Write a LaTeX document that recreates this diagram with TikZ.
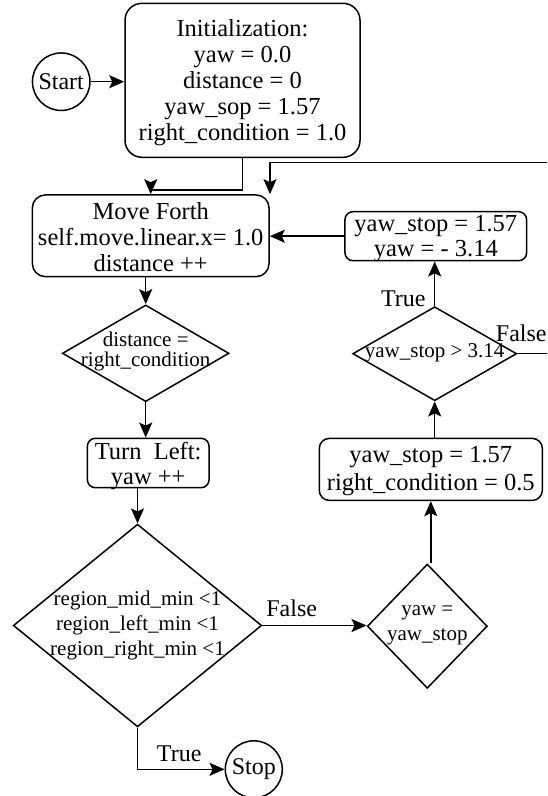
\documentclass[tikz,border=0pt]{standalone}
\usepackage{fontspec}
\setmainfont{Liberation Serif}
\usetikzlibrary{shapes.geometric,arrows.meta}
\begin{document}
\begin{tikzpicture}[x=1pt,y=-1pt,
  line width=1.5pt,
  arr/.style={-{Stealth[length=15pt,width=13pt,inset=3pt]}},
  rbox/.style={draw, rounded corners=#1, inner sep=0pt},
  dia/.style={draw, diamond, inner sep=0pt},
  circ/.style={draw, circle, inner sep=0pt},
  bigtxt/.style={font=\fontsize{24.5}{26}\selectfont, align=center, inner sep=0pt},
  smalltxt/.style={font=\fontsize{21}{25}\selectfont, align=center, inner sep=0pt},
  lbl/.style={font=\fontsize{24}{26}\selectfont, inner sep=0pt}]
\useasboundingbox (0,0) rectangle (547,796);
\fill[white] (0,0) rectangle (547,796);
\clip (0,0) rectangle (547,796);

% shapes
\node[circ, minimum size=57.5pt] (start) at (61.2,81.7) {};
\node[lbl] (startT) at (61.2,81.7) {Start};

\node[rbox=17pt, minimum width=235pt, minimum height=154pt] (init) at (242.5,80.3) {};
\node[bigtxt] (initT) at (242.5,82.5) {Initialization:\\yaw = 0.0\\distance = 0\\yaw\_sop = 1.57\\right\_condition = 1.0};

\node[rbox=13pt, minimum width=236.7pt, minimum height=81.7pt] (move) at (150.7,235.8) {};
\node[bigtxt] (moveT) at (150.7,237.5) {Move Forth\\self.move.linear.x= 1.0\\distance ++};

\node[dia, minimum width=166.7pt, minimum height=96.7pt] (d1) at (145.7,353.3) {};
\node[smalltxt, font=\fontsize{21}{20}\selectfont] (d1T) at (145.7,351.7) {distance =\\right\_condition};

\node[rbox=8pt, minimum width=121.7pt, minimum height=49.4pt] (turn) at (148.2,463) {};
\node[bigtxt, font=\fontsize{24.5}{25}\selectfont] (turnT) at (148.2,465.8) {Turn\ \ Left:\\yaw ++};

\node[dia, minimum width=248.4pt, minimum height=202.7pt] (big) at (137.5,625.5) {};
\node[smalltxt] (bigT) at (137.5,625) {region\_mid\_min <1\\region\_left\_min <1\\region\_right\_min <1};

\node[circ, minimum size=57pt] (stop) at (253.8,769.3) {};
\node[lbl] (stopT) at (253.8,769.3) {Stop};

\node[rbox=8pt, minimum width=181.7pt, minimum height=49pt] (b1) at (435.8,236.2) {};
\node[bigtxt, font=\fontsize{24.5}{25}\selectfont] (b1T) at (435.8,239) {yaw\_stop = 1.57\\yaw = - 3.14};

\node[dia, minimum width=164pt, minimum height=94pt] (d2) at (434.7,353.7) {};
\node[smalltxt] (d2T) at (434.7,353.3) {yaw\_stop > 3.14};

\node[rbox=10pt, minimum width=223pt, minimum height=62pt] (b2) at (430.8,469.4) {};
\node[bigtxt, font=\fontsize{24.5}{28.3}\selectfont] (b2T) at (430.8,470.8) {yaw\_stop = 1.57\\right\_condition = 0.5};

\node[dia, minimum width=120pt, minimum height=124.3pt] (d3) at (427.3,626.2) {};
\node[smalltxt, font=\fontsize{21}{25.6}\selectfont] (d3T) at (427.3,625.5) {yaw =\\yaw\_stop};

% labels
\node[lbl] (t1) at (403.3,298.3) {True};
\node[lbl] (f1) at (521.3,333.3) {False};
\node[lbl] (f2) at (291.7,608.3) {False};
\node[lbl] (t2) at (179.2,753.3) {True};

% connectors
\coordinate (j1) at (150.7,190);
\coordinate (r1) at (562,353.7);
\coordinate (j2) at (270,162.7);
\draw[arr] (start.east) -- (start.east -| init.west);
\draw[arr] (init.south) |- (j1) -- (j1 |- move.north);
\draw[arr] (d2.east) -- (r1) |- (j2) -- (j2 |- move.north);
\draw[arr] (b1.west) -- (b1.west -| move.east);
\draw[arr] (d2.north) -- (d2.north |- b1.south);
\draw[arr] (d2.south |- b2.north) -- (d2.south);
\draw[arr] (b2.south |- d3.north) -- (b2.south);
\draw[arr] (d1.north |- move.south) -- (d1.north);
\draw[arr] (d1.south) -- (d1.south |- turn.north);
\draw[arr] (big.north |- turn.south) -- (big.north);
\draw[arr] (big.east) -- (big.east -| d3.west);
\draw[arr] (big.south) |- (stop.west);
\end{tikzpicture}
\end{document}
